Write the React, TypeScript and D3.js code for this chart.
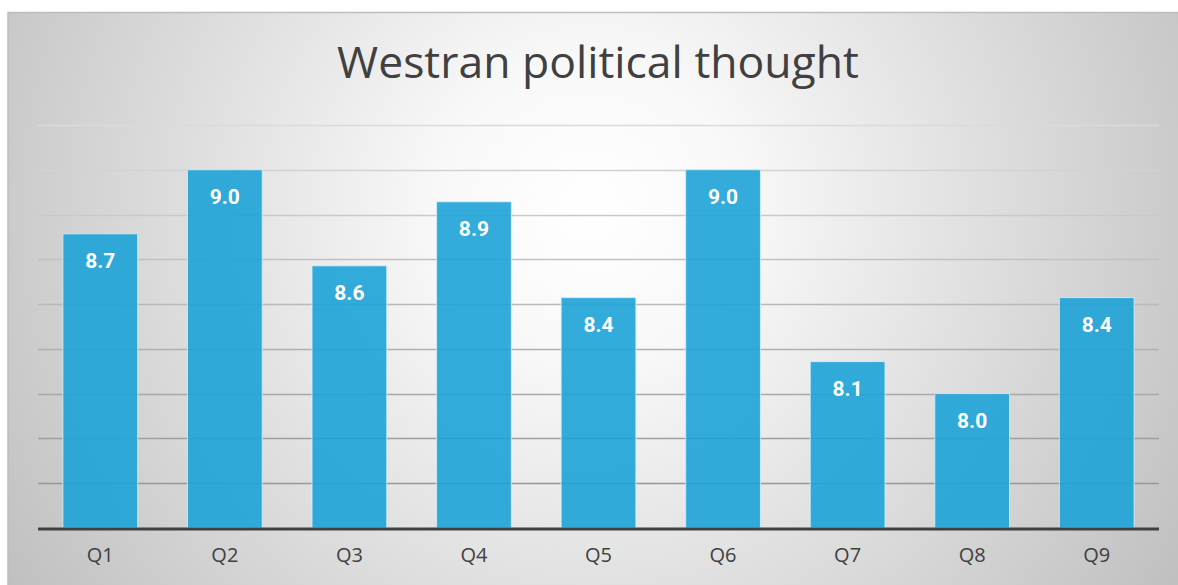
import * as d3 from "d3";
import React, { useEffect, useRef } from "react";

// mean scores (7 respondents per question)
const questions = ["Q1", "Q2", "Q3", "Q4", "Q5", "Q6", "Q7", "Q8", "Q9"];
const scores = [8.714, 9.0, 8.571, 8.857, 8.429, 9.0, 8.143, 8.0, 8.429];
const gridTicks = [7.4, 7.6, 7.8, 8.0, 8.2, 8.4, 8.6, 8.8, 9.0, 9.2];
const title = "Westran political thought";

function drawChart(svgEl: SVGSVGElement) {
    const width = 1178;
    const height = 585;
    const margin = { top: 125, right: 19, bottom: 57, left: 38 };

    const svg = d3.select(svgEl)
        .attr("width", width)
        .attr("height", height)
        .style("position", "absolute")
        .style("left", "0px")
        .style("top", "0px");

    svg.selectAll("*").remove();

    const defs = svg.append("defs");
    const bg = defs.append("radialGradient")
        .attr("id", "bgGrad")
        .attr("gradientUnits", "userSpaceOnUse")
        .attr("cx", 590).attr("cy", 210).attr("r", 700);
    bg.append("stop").attr("offset", "0%").attr("stop-color", "#ffffff");
    bg.append("stop").attr("offset", "22%").attr("stop-color", "#f8f8f8");
    bg.append("stop").attr("offset", "100%").attr("stop-color", "#bfbfbf");

    svg.append("rect")
        .attr("x", 8).attr("y", 12)
        .attr("width", width).attr("height", height)
        .attr("fill", "url(#bgGrad)");
    // top and left frame
    svg.append("path")
        .attr("d", `M8,${height} L8,12.5 L${width},12.5`)
        .attr("fill", "none")
        .attr("stroke", "#bdbdbd")
        .attr("stroke-width", 1.5);

    const x = d3.scaleBand()
        .domain(questions)
        .range([margin.left, width - margin.right])
        .paddingInner(0.4)
        .paddingOuter(0.2);

    const y = d3.scaleLinear()
        .domain([7.4, 9.2])
        .range([height - margin.bottom, margin.top]);

    const gridColor = d3.scaleLinear<string>()
        .domain([9.2, 7.6])
        .range(["#dadada", "#979797"]);

    svg.append("g")
        .selectAll("line")
        .data(gridTicks.slice(1))
        .enter().append("line")
        .attr("x1", margin.left)
        .attr("x2", width - margin.right)
        .attr("y1", (d) => Math.round(y(d)) + 0.5)
        .attr("y2", (d) => Math.round(y(d)) + 0.5)
        .attr("stroke", (d) => gridColor(d))
        .attr("stroke-width", 1.5);

    svg.append("g")
        .selectAll("rect")
        .data(scores)
        .enter().append("rect")
        .attr("x", (d, i) => x(questions[i]) || 0)
        .attr("y", (d) => y(d))
        .attr("width", x.bandwidth())
        .attr("height", (d) => y(7.4) - y(d))
        .attr("fill", "#1da2d7")
        .attr("fill-opacity", 0.9)
        .attr("stroke", "#d8f0fa")
        .attr("stroke-opacity", 0.8)
        .attr("stroke-width", 1);

    svg.append("g")
        .selectAll("text")
        .data(scores)
        .enter().append("text")
        .attr("x", (d, i) => (x(questions[i]) || 0) + x.bandwidth() / 2)
        .attr("y", (d) => y(d) + 34)
        .attr("text-anchor", "middle")
        .attr("fill", "#ffffff")
        .style("font", "bold 21px Roboto, 'Open Sans', sans-serif")
        .text((d) => d3.format(".1f")(d));

    // baseline
    svg.append("line")
        .attr("x1", margin.left)
        .attr("x2", width - margin.right)
        .attr("y1", y(7.4) + 1)
        .attr("y2", y(7.4) + 1)
        .attr("stroke", "#404040")
        .attr("stroke-width", 3);

    svg.append("g")
        .selectAll("text")
        .data(questions)
        .enter().append("text")
        .attr("x", (d) => (x(d) || 0) + x.bandwidth() / 2)
        .attr("y", height - 23)
        .attr("text-anchor", "middle")
        .attr("fill", "#404040")
        .style("font", "20px 'Open Sans', Roboto, sans-serif")
        .text((d) => d);

    svg.append("text")
        .attr("x", 598)
        .attr("y", 78)
        .attr("text-anchor", "middle")
        .attr("fill", "#404040")
        .style("font", "44.5px 'Open Sans', Roboto, sans-serif")
        .text(title);
}

export default function App() {
    const svg = useRef<SVGSVGElement>(null);
    useEffect(() => {
        if (svg.current) drawChart(svg.current);
    });
    return (
        <div style={{ width: 1178, height: 585, overflow: "hidden" }}>
            <svg ref={svg}></svg>
        </div>
    );
}
